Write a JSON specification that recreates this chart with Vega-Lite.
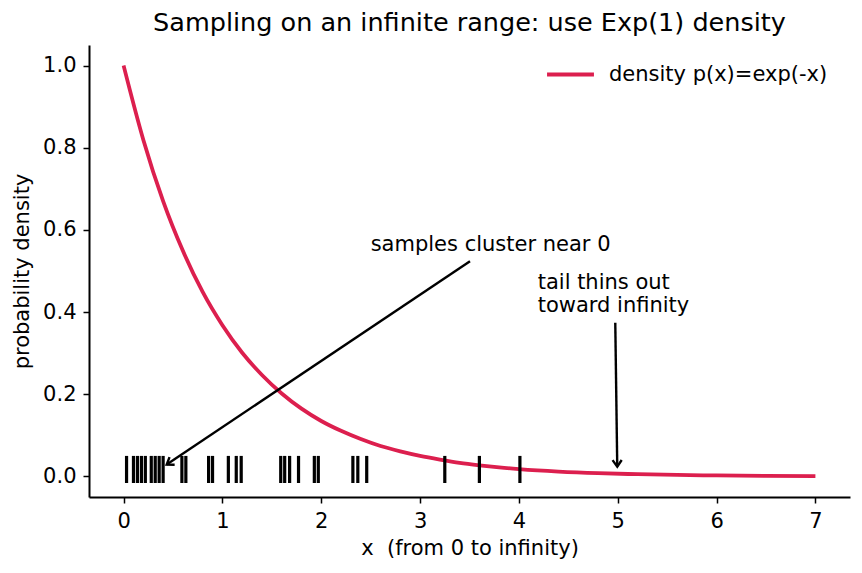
{
  "$schema": "https://vega.github.io/schema/vega-lite/v6.json",
  "width": 761,
  "height": 452,
  "autosize": "none",
  "padding": {"left": 89, "top": 45, "right": 12, "bottom": 76},
  "background": "white",
  "title": {"text": "Sampling on an infinite range: use Exp(1) density", "font": "DejaVu Sans", "fontSize": 25.5, "fontWeight": "normal", "color": "black", "offset": 9, "anchor": "middle"},
  "config": {
    "view": {"stroke": null},
    "font": "DejaVu Sans",
    "axis": {"domainColor": "black", "domainWidth": 2, "tickColor": "black", "tickWidth": 1.5, "tickSize": 6, "labelColor": "black", "labelFont": "DejaVu Sans", "labelFontSize": 21, "titleFont": "DejaVu Sans", "titleFontSize": 21, "titleFontWeight": "normal", "titleColor": "black", "grid": false, "labelPadding": 7}
  },
  "datasets": {
    "curve": [
      {"x": 0, "p": 1.0}, {"x": 0.2, "p": 0.819}, {"x": 0.4, "p": 0.670}, {"x": 0.6, "p": 0.549},
      {"x": 0.8, "p": 0.449}, {"x": 1.0, "p": 0.368}, {"x": 1.2, "p": 0.301}, {"x": 1.4, "p": 0.247},
      {"x": 1.6, "p": 0.202}, {"x": 1.8, "p": 0.165}, {"x": 2.0, "p": 0.135}, {"x": 2.2, "p": 0.111},
      {"x": 2.4, "p": 0.091}, {"x": 2.6, "p": 0.074}, {"x": 2.8, "p": 0.061}, {"x": 3.0, "p": 0.050},
      {"x": 3.2, "p": 0.041}, {"x": 3.4, "p": 0.033}, {"x": 3.6, "p": 0.027}, {"x": 3.8, "p": 0.022},
      {"x": 4.0, "p": 0.018}, {"x": 4.4, "p": 0.012}, {"x": 4.8, "p": 0.008}, {"x": 5.2, "p": 0.0055},
      {"x": 5.6, "p": 0.0037}, {"x": 6.0, "p": 0.0025}, {"x": 6.5, "p": 0.0015}, {"x": 7.0, "p": 0.0009}
    ],
    "samples": [
      {"x": 0.03}, {"x": 0.10}, {"x": 0.14}, {"x": 0.18}, {"x": 0.22}, {"x": 0.28}, {"x": 0.32},
      {"x": 0.36}, {"x": 0.40}, {"x": 0.59}, {"x": 0.63}, {"x": 0.86}, {"x": 0.90}, {"x": 1.06},
      {"x": 1.14}, {"x": 1.19}, {"x": 1.59}, {"x": 1.63}, {"x": 1.68}, {"x": 1.77}, {"x": 1.93},
      {"x": 1.97}, {"x": 2.32}, {"x": 2.37}, {"x": 2.46}, {"x": 3.25}, {"x": 3.60}, {"x": 4.01}
    ]
  },
  "layer": [
    {
      "data": {"name": "curve"},
      "mark": {"type": "line", "strokeWidth": 3.8, "interpolate": "monotone"},
      "encoding": {
        "x": {"field": "x", "type": "quantitative", "scale": {"domain": [-0.35, 7.35], "nice": false, "zero": false}, "axis": {"values": [0, 1, 2, 3, 4, 5, 6, 7], "format": "d", "title": "x\u00a0 (from 0 to infinity)", "titlePadding": 6}},
        "y": {"field": "p", "type": "quantitative", "scale": {"domain": [-0.05, 1.05], "nice": false, "zero": false}, "axis": {"values": [0, 0.2, 0.4, 0.6, 0.8, 1.0], "format": ".1f", "title": "probability density", "titlePadding": 10}},
        "color": {"datum": "density p(x)=exp(-x)", "type": "nominal", "scale": {"domain": ["density p(x)=exp(-x)"], "range": ["#DC1F4E"]},
          "legend": {"title": null, "orient": "none", "legendX": 456, "legendY": 4, "symbolType": "stroke", "symbolSize": 2200, "symbolStrokeWidth": 4, "labelFontSize": 21, "labelColor": "black", "labelFont": "DejaVu Sans", "labelOffset": 13, "labelLimit": 400}}
      }
    },
    {
      "data": {"name": "samples"},
      "mark": {"type": "rule", "color": "black", "strokeWidth": 3.2},
      "encoding": {
        "x": {"field": "x", "type": "quantitative"},
        "y": {"datum": 0.05},
        "y2": {"datum": -0.016}
      }
    },
    {
      "data": {"values": [{"x": 3.505, "y": 0.524, "x2": 0.436, "y2": 0.029}, {"x": 4.975, "y": 0.374, "x2": 4.995, "y2": 0.024}]},
      "mark": {"type": "rule", "color": "black", "strokeWidth": 2.4},
      "encoding": {
        "x": {"field": "x", "type": "quantitative"},
        "y": {"field": "y", "type": "quantitative"},
        "x2": {"field": "x2"},
        "y2": {"field": "y2"}
      }
    },
    {
      "data": {"values": [{"x": 0.436, "y": 0.029}]},
      "mark": {"type": "point", "shape": "M-0.7,1L0,0L0.7,1", "filled": false, "stroke": "black", "strokeWidth": 2.4, "size": 170, "angle": 236, "opacity": 1},
      "encoding": {"x": {"field": "x", "type": "quantitative"}, "y": {"field": "y", "type": "quantitative"}}
    },
    {
      "data": {"values": [{"x": 4.995, "y": 0.024}]},
      "mark": {"type": "point", "shape": "M-0.7,1L0,0L0.7,1", "filled": false, "stroke": "black", "strokeWidth": 2.4, "size": 170, "angle": 179, "opacity": 1},
      "encoding": {"x": {"field": "x", "type": "quantitative"}, "y": {"field": "y", "type": "quantitative"}}
    },
    {
      "data": {"values": [{"x": 2.5, "y": 0.563, "t": "samples cluster near 0"}]},
      "mark": {"type": "text", "align": "left", "baseline": "middle", "fontSize": 21, "color": "black"},
      "encoding": {"x": {"field": "x", "type": "quantitative"}, "y": {"field": "y", "type": "quantitative"}, "text": {"field": "t"}}
    },
    {
      "data": {"values": [{"x": 4.19, "y": 0.471, "t": ["tail thins out", "toward infinity"]}]},
      "mark": {"type": "text", "align": "left", "baseline": "middle", "fontSize": 21, "color": "black", "lineHeight": 23},
      "encoding": {"x": {"field": "x", "type": "quantitative"}, "y": {"field": "y", "type": "quantitative"}, "text": {"field": "t"}}
    }
  ]
}
